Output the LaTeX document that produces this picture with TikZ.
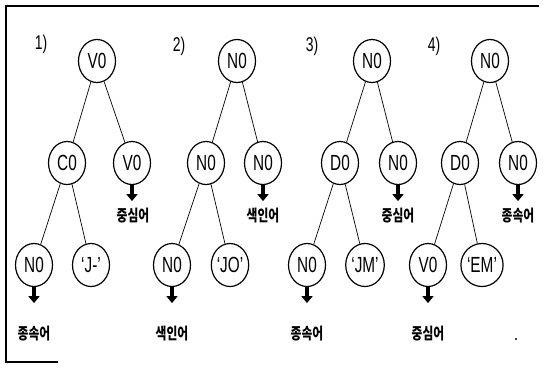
\documentclass[tikz,border=0pt]{standalone}
\usepackage{fontspec}
\usetikzlibrary{shapes.geometric,arrows.meta}
\newfontfamily\labfont[FakeStretch=0.70]{Liberation Sans}
\newfontfamily\krfont[FakeStretch=0.74]{Noto Sans CJK KR}
\tikzset{
  tnode/.style={draw, ellipse, line width=1.2pt, minimum width=37bp, minimum height=43bp,
                inner sep=0pt, font=\labfont\fontsize{22}{22}\selectfont},
  tnum/.style={font=\labfont\fontsize{20}{20}\selectfont, inner sep=0pt},
  tword/.style={font=\krfont\bfseries\fontsize{16}{16}\selectfont, inner sep=0pt},
  tedge/.style={line width=0.7pt},
  headarrow/.style={line width=3.6pt, -{Triangle[width=11bp,length=7bp]}},
  frameline/.style={line width=1.6pt}
}
\begin{document}
\begin{tikzpicture}[x=1bp,y=-1bp]
\useasboundingbox (0,0) rectangle (547,368);
% open frame: top, left and a short bottom piece
\coordinate (f1) at (6,6);
\coordinate (f2) at (539,6);
\coordinate (f3) at (6,362);
\coordinate (f4) at (58,362);
\draw[frameline] (f2) -- (f1) -- (f3) -- (f4);

% tree 1
\node[tnum] (l1) at (41,44) {1)};
\node[tnode] (a0) at (97,61) {V0};
\node[tnode] (a1) at (67,163) {C0};
\node[tnode] (a2) at (132,163) {V0};
\node[tnode] (a3) at (34,265) {N0};
\node[tnode] (a4) at (91,265) {‘J-’};
\draw[tedge] (a0) -- (a1);
\draw[tedge] (a0) -- (a2);
\draw[tedge] (a1) -- (a3);
\draw[tedge] (a1) -- (a4);
\draw[headarrow] (a2.south) -- ++(0,16) coordinate (a2e);
\node[tword] (w1) at (133,216) {중심어};
\draw[headarrow] (a3.south) -- ++(0,16) coordinate (a3e);
\node[tword] (w2) at (34,334) {종속어};

% tree 2
\node[tnum] (l2) at (179,46) {2)};
\node[tnode] (b0) at (237,61) {N0};
\node[tnode] (b1) at (206,163) {N0};
\node[tnode] (b2) at (263,163) {N0};
\node[tnode] (b3) at (172,265) {N0};
\node[tnode] (b4) at (230,265) {‘JO’};
\draw[tedge] (b0) -- (b1);
\draw[tedge] (b0) -- (b2);
\draw[tedge] (b1) -- (b3);
\draw[tedge] (b1) -- (b4);
\draw[headarrow] (b2.south) -- ++(0,16) coordinate (b2e);
\node[tword] (w3) at (263,216) {색인어};
\draw[headarrow] (b3.south) -- ++(0,16) coordinate (b3e);
\node[tword] (w4) at (172,334) {색인어};

% tree 3
\node[tnum] (l3) at (312,46) {3)};
\node[tnode] (c0) at (372,61) {N0};
\node[tnode] (c1) at (340,163) {D0};
\node[tnode] (c2) at (398,163) {N0};
\node[tnode] (c3) at (307,265) {N0};
\node[tnode] (c4) at (365,265) {‘JM’};
\draw[tedge] (c0) -- (c1);
\draw[tedge] (c0) -- (c2);
\draw[tedge] (c1) -- (c3);
\draw[tedge] (c1) -- (c4);
\draw[headarrow] (c2.south) -- ++(0,16) coordinate (c2e);
\node[tword] (w5) at (398,216) {중심어};
\draw[headarrow] (c3.south) -- ++(0,16) coordinate (c3e);
\node[tword] (w6) at (307,334) {종속어};

% tree 4
\node[tnum] (l4) at (434,46) {4)};
\node[tnode] (d0) at (490,61) {N0};
\node[tnode] (d1) at (460,163) {D0};
\node[tnode] (d2) at (518,163) {N0};
\node[tnode] (d3) at (428,265) {V0};
\node[tnode] (d4) at (482,265) {‘EM’};
\draw[tedge] (d0) -- (d1);
\draw[tedge] (d0) -- (d2);
\draw[tedge] (d1) -- (d3);
\draw[tedge] (d1) -- (d4);
\draw[headarrow] (d2.south) -- ++(0,16) coordinate (d2e);
\node[tword] (w7) at (518,216) {종속어};
\draw[headarrow] (d3.south) -- ++(0,16) coordinate (d3e);
\node[tword] (w8) at (428,334) {중심어};

% small speck near the lower right
\fill (516,339) circle (1.1bp);
\end{tikzpicture}
\end{document}
